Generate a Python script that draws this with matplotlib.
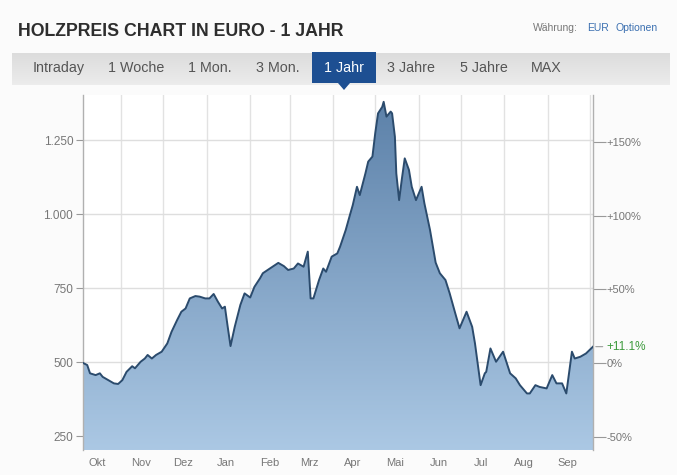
import matplotlib
matplotlib.use('Agg')
import matplotlib.pyplot as plt
import matplotlib.dates as mdates
from matplotlib.patches import Rectangle, Polygon
from matplotlib.colors import LinearSegmentedColormap
import numpy as np
import pandas as pd

plt.rcParams['font.family'] = ['Liberation Sans', 'DejaVu Sans']

# Holzpreis in EUR, ein Jahr (Tageswerte, ausgedünnt)
dates = [
    "2020-10-05", "2020-10-08", "2020-10-10", "2020-10-14", "2020-10-17", "2020-10-19",
    "2020-10-23", "2020-10-27", "2020-10-30", "2020-11-02", "2020-11-05", "2020-11-09",
    "2020-11-11", "2020-11-15", "2020-11-18", "2020-11-20", "2020-11-23", "2020-11-26",
    "2020-11-30", "2020-12-04", "2020-12-07", "2020-12-11", "2020-12-14", "2020-12-17",
    "2020-12-20", "2020-12-24", "2020-12-27", "2020-12-31", "2021-01-03", "2021-01-06",
    "2021-01-09", "2021-01-12", "2021-01-14", "2021-01-16", "2021-01-18", "2021-01-21",
    "2021-01-25", "2021-01-28", "2021-02-01", "2021-02-04", "2021-02-08", "2021-02-10",
    "2021-02-15", "2021-02-21", "2021-02-25", "2021-02-28", "2021-03-04", "2021-03-07",
    "2021-03-11", "2021-03-14", "2021-03-16", "2021-03-18", "2021-03-22", "2021-03-25",
    "2021-03-27", "2021-03-31", "2021-04-04", "2021-04-06", "2021-04-10", "2021-04-13",
    "2021-04-15", "2021-04-18", "2021-04-20", "2021-04-24", "2021-04-26", "2021-04-29",
    "2021-05-01", "2021-05-03", "2021-05-06", "2021-05-07", "2021-05-09", "2021-05-12",
    "2021-05-13", "2021-05-15", "2021-05-16", "2021-05-18", "2021-05-20", "2021-05-22",
    "2021-05-25", "2021-05-27", "2021-05-30", "2021-06-03", "2021-06-05", "2021-06-09",
    "2021-06-13", "2021-06-16", "2021-06-20", "2021-06-23", "2021-06-27", "2021-06-30",
    "2021-07-05", "2021-07-09", "2021-07-11", "2021-07-15", "2021-07-18", "2021-07-19",
    "2021-07-22", "2021-07-26", "2021-07-31", "2021-08-05", "2021-08-09", "2021-08-12",
    "2021-08-17", "2021-08-19", "2021-08-23", "2021-08-26", "2021-08-31", "2021-09-04",
    "2021-09-07", "2021-09-11", "2021-09-14", "2021-09-18", "2021-09-20", "2021-09-24",
    "2021-09-28", "2021-10-03",
]
prices = [
    497, 490, 462, 456, 462, 450,
    439, 428, 426, 439, 467, 486,
    479, 501, 512, 524, 512, 524,
    535, 563, 602, 642, 670, 681,
    715, 723, 721, 715, 715, 730,
    704, 681, 687, 619, 554, 619,
    693, 732, 718, 754, 783, 800,
    816, 835, 824, 811, 816, 833,
    822, 873, 715, 715, 777, 816,
    805, 856, 867, 890, 946, 997,
    1030, 1092, 1064, 1137, 1177, 1194,
    1273, 1340, 1362, 1379, 1329, 1346,
    1340, 1261, 1137, 1047, 1120, 1188,
    1149, 1092, 1047, 1092, 1036, 946,
    836, 800, 777, 732, 664, 614,
    670, 619, 563, 422, 462, 467,
    546, 501, 535, 462, 445, 422,
    394, 394, 422, 416, 411, 456,
    428, 428, 394, 535, 512, 518,
    529, 552,
]

left_ticks = [250, 500, 750, 1000, 1250]
left_labels = ["250", "500", "750", "1.000", "1.250"]
pct_ticks = [-50, 0, 50, 100, 150]
pct_labels = ["-50%", "0%", "+50%", "+100%", "+150%"]
month_labels = ["Okt", "Nov", "Dez", "Jan", "Feb", "Mrz", "Apr", "Mai", "Jun", "Jul", "Aug", "Sep"]
tabs = ["Intraday", "1 Woche", "1 Mon.", "3 Mon.", "1 Jahr", "3 Jahre", "5 Jahre", "MAX"]
tab_x = [59, 136, 210, 278, 344, 411, 484, 546]
active_tab = "1 Jahr"

W, H = 677, 475
fig = plt.figure(figsize=(W / 100, H / 100), dpi=100)
fig.patch.set_facecolor('#fbfbfb')

# --- Kopfzeile und Tab-Leiste in Pixelkoordinaten ---
hdr = fig.add_axes([0, 0, 1, 1])
hdr.axis('off')
hdr.text(18, 31, "HOLZPREIS CHART IN EURO - 1 JAHR", fontsize=12.8, fontweight='bold',
         color='#2e2e2e', va='center', ha='left')
hdr.text(533, 28, "Währung:", fontsize=7.5, color='#777777', va='center', ha='left')
hdr.text(587, 28, "EUR", fontsize=7.5, color='#3a6fb0', va='center', ha='left')
hdr.text(616, 28, "Optionen", fontsize=7.5, color='#3a6fb0', va='center', ha='left')

# Tab-Leiste mit leichtem Verlauf
bar = np.linspace(0, 1, 32).reshape(-1, 1)
hdr.imshow(bar, extent=[12, 670, 85, 53], aspect='auto', zorder=1,
           cmap=LinearSegmentedColormap.from_list('bar', ['#dcdcdc', '#ececec']))
hdr.set_xlim(0, W)
hdr.set_ylim(H, 0)
for label, cx in zip(tabs, tab_x):
    if label == active_tab:
        hdr.add_patch(Rectangle((cx - 32, 52), 64, 31, facecolor='#1d4f92', edgecolor='none', zorder=2))
        hdr.add_patch(Polygon([[cx - 6, 83], [cx + 6, 83], [cx, 90]], closed=True,
                              facecolor='#1d4f92', edgecolor='none', zorder=2))
        hdr.text(cx, 68, label, fontsize=10.3, color='white', ha='center', va='center', zorder=3)
    else:
        hdr.text(cx, 68, label, fontsize=10.3, color='#555555', ha='center', va='center', zorder=3)

# --- Chartfläche ---
ax = fig.add_axes([83 / W, 1 - 450 / H, 510 / W, 355 / H])
ax.set_facecolor('white')

x = mdates.date2num(pd.to_datetime(dates))
y = np.array(prices, dtype=float)
ymin, ymax = 203, 1402
x0 = mdates.date2num(pd.Timestamp("2020-10-05"))
x1 = mdates.date2num(pd.Timestamp("2021-10-03"))
ax.set_xlim(x0, x1)
ax.set_ylim(ymin, ymax)

# Flächenfüllung mit vertikalem Farbverlauf
fill = ax.fill_between(x, y, ymin, facecolor='none', edgecolor='none')
cmap = LinearSegmentedColormap.from_list('holz', ['#abc8e4', '#5b80a8'])
grad = np.linspace(0, 1, 256).reshape(-1, 1)
im = ax.imshow(grad, extent=[x0, x1, ymin, ymax], origin='lower', aspect='auto',
               cmap=cmap, zorder=2)
im.set_clip_path(fill.get_paths()[0], transform=ax.transData)
ax.plot(x, y, color='#2b4b6d', lw=1.4, zorder=3)

# Gitter: Monatsanfänge senkrecht, Kurswerte waagerecht
ax.xaxis.set_major_locator(mdates.MonthLocator())
ax.xaxis.set_major_formatter(plt.NullFormatter())
ax.xaxis.set_minor_locator(mdates.MonthLocator(bymonthday=15))
ax.xaxis.set_minor_formatter(plt.FuncFormatter(lambda v, p: month_labels[(mdates.num2date(v).month - 10) % 12]))
ax.tick_params(axis='x', which='both', length=0, labelsize=8, colors='#777777', pad=6)
ax.grid(axis='x', which='major', color='#e2e2e2', lw=1.0, zorder=1)
ax.set_yticks(left_ticks)
ax.set_yticklabels(left_labels)
ax.grid(axis='y', color='#dedede', lw=1.0, zorder=1)
ax.tick_params(axis='y', length=5, width=0.8, colors='#999999', labelcolor='#777777',
               labelsize=8.5, pad=2)
ax.set_axisbelow(True)
for side in ['top', 'bottom']:
    ax.spines[side].set_visible(False)
for side in ['left', 'right']:
    ax.spines[side].set_color('#b0b0b0')
    ax.spines[side].set_linewidth(1.0)

# Rechte Achse: Veränderung in Prozent gegenüber dem ersten Kurs
base = y[0]
sec = ax.secondary_yaxis('right', functions=(lambda v: (v / base - 1) * 100,
                                             lambda p: base * (1 + p / 100)))
sec.set_yticks(pct_ticks)
sec.set_yticklabels(pct_labels)
sec.tick_params(length=9, width=0.8, colors='#999999', labelcolor='#777777', labelsize=8, pad=1)
sec.spines['right'].set_visible(False)

change = (y[-1] / base - 1) * 100
ax.annotate("", xy=(1.0, y[-1]), xycoords=('axes fraction', 'data'),
            xytext=(9, 0), textcoords='offset points',
            arrowprops=dict(arrowstyle='-', color='#999999', lw=0.8))
ax.annotate(f"{change:+.1f}%", xy=(1.0, y[-1]), xycoords=('axes fraction', 'data'),
            xytext=(10, 0), textcoords='offset points', va='center', ha='left',
            fontsize=8.5, color='#3c9a3c')

fig.savefig('out.png', dpi=100, facecolor=fig.get_facecolor())
